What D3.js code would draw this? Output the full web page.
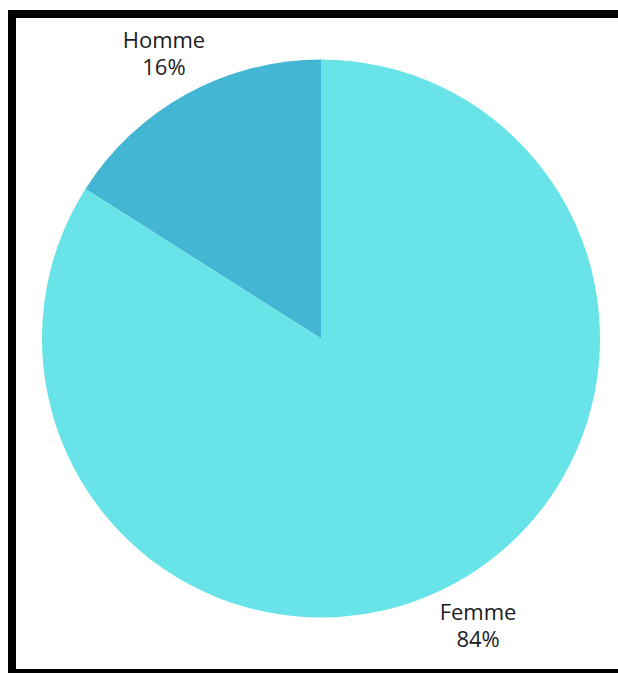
<!DOCTYPE html>
<html>
<head>
<meta charset="utf-8">
<script src="https://cdn.jsdelivr.net/npm/d3@7"></script>
<style>
  html, body { margin: 0; padding: 0; background: #fff; overflow: hidden; }
  svg { display: block; }
</style>
</head>
<body>
<svg id="chart" width="618" height="673"></svg>
<script>
// Répartition par sexe
const categories = ["Homme", "Femme"];
const values = [16, 84];
const colors = ["#43b6d3", "#68e3e8"];

const width = 618, height = 673;
const cx = 321, cy = 338.5, radius = 279;
const labelRadius = 326;

const svg = d3.select("#chart");

// cadre noir : haut, gauche et bas (le côté droit sort du cadre)
const frame = svg.append("g").attr("fill", "#000");
frame.append("rect").attr("x", 8).attr("y", 10).attr("width", width - 8).attr("height", 8);
frame.append("rect").attr("x", 8).attr("y", 10).attr("width", 8).attr("height", height - 10);
frame.append("rect").attr("x", 8).attr("y", 669).attr("width", width - 8).attr("height", 4);

const data = categories.map((c, i) => ({ name: c, value: values[i], color: colors[i] }));

// Homme part du haut vers la gauche, Femme complète le cercle
const pie = d3.pie()
  .value(d => d.value)
  .sort(null)
  .startAngle(-0.16 * 2 * Math.PI)
  .endAngle(2 * Math.PI - 0.16 * 2 * Math.PI);

const arcs = pie(data);
const arc = d3.arc().innerRadius(0).outerRadius(radius);
const labelArc = d3.arc().innerRadius(labelRadius).outerRadius(labelRadius);

const g = svg.append("g").attr("transform", `translate(${cx},${cy})`);

g.selectAll("path.slice")
  .data(arcs)
  .join("path")
  .attr("class", "slice")
  .attr("d", arc)
  .attr("fill", d => d.data.color);

const labels = g.selectAll("text.label")
  .data(arcs)
  .join("text")
  .attr("class", "label")
  .attr("text-anchor", "middle")
  .attr("font-family", "'Open Sans', sans-serif")
  .attr("font-size", 22)
  .attr("fill", "#1c1c24")
  .attr("transform", d => {
    const [x, y] = labelArc.centroid(d);
    return `translate(${x},${y})`;
  });

labels.append("tspan")
  .attr("x", 0).attr("y", -4.5)
  .text(d => d.data.name);
labels.append("tspan")
  .attr("x", 0).attr("y", 22.5)
  .text(d => d.data.value + "%");
</script>
</body>
</html>
